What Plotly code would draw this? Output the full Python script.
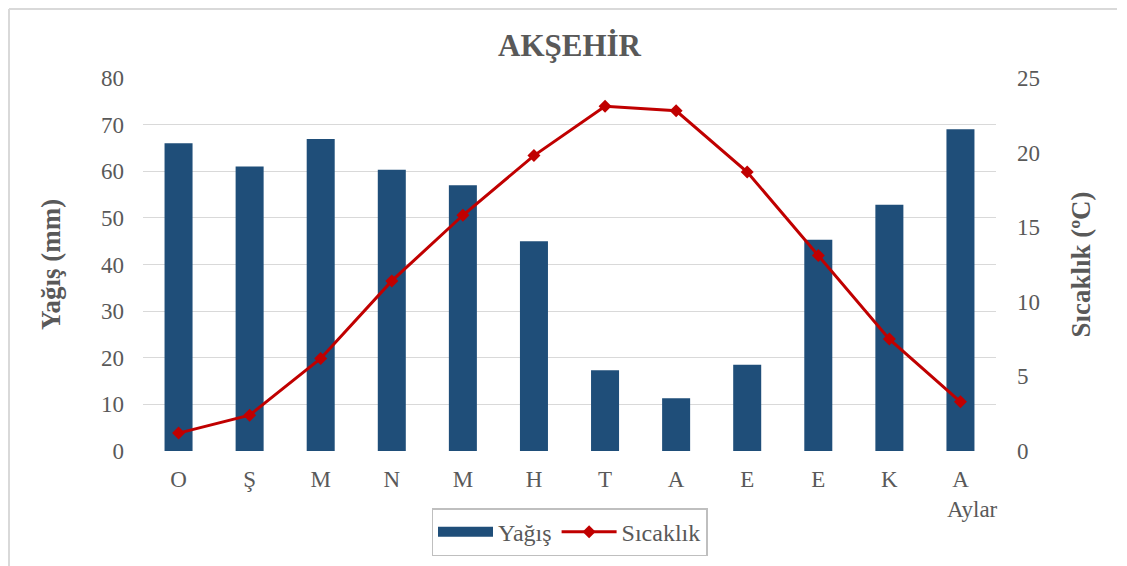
import plotly.graph_objects as go

months = ["O", "Ş", "M", "N", "M", "H", "T", "A", "E", "E", "K", "A"]
yagis = [66.0, 61.0, 66.9, 60.3, 57.0, 45.0, 17.3, 11.3, 18.5, 45.3, 52.8, 69.0]
sicaklik = [1.2, 2.4, 6.2, 11.4, 15.8, 19.8, 23.1, 22.8, 18.7, 13.1, 7.5, 3.3]

x_idx = list(range(len(months)))

FONT = "Liberation Serif, Times New Roman, serif"
GRAY = "#595959"
BLUE = "#1F4E79"
RED = "#C00000"

fig = go.Figure()
fig.add_trace(go.Bar(x=x_idx, y=yagis, name="Yağış", marker_color=BLUE,
                     marker_line_width=0, yaxis="y", showlegend=False))
# legend-only entry for bars (wide swatch like the reference)
fig.add_trace(go.Scatter(x=[None], y=[None], name="Yağış", mode="lines",
                         line=dict(color=BLUE, width=12), yaxis="y"))
fig.add_trace(go.Scatter(x=x_idx, y=sicaklik, name="Sıcaklık", mode="lines+markers",
                         line=dict(color=RED, width=3),
                         marker=dict(symbol="diamond", size=10, color=RED),
                         yaxis="y2"))

fig.update_layout(
    width=1127, height=566,
    margin=dict(l=135, r=139, t=70, b=123),
    paper_bgcolor="white", plot_bgcolor="white",
    font=dict(family=FONT, color=GRAY, size=23),
    title=dict(text="<b>AKŞEHİR</b>", xref="paper", x=0.5, xanchor="center",
               y=0.935, yanchor="middle",
               font=dict(size=31, color=GRAY, family=FONT)),
    bargap=0.606,
    showlegend=True,
    legend=dict(orientation="h", x=0.5, xanchor="center", y=-0.153, yanchor="top",
                bordercolor="#BFBFBF", borderwidth=1.5, bgcolor="white",
                font=dict(size=24, color=GRAY, family=FONT),
                itemwidth=55,
                traceorder="normal"),
    xaxis=dict(tickmode="array", tickvals=x_idx, ticktext=months, range=[-0.5, 11.5],
               showgrid=False, zeroline=False, showline=False, ticks="",
               ticklabelstandoff=12, tickfont=dict(size=23, color=GRAY)),
    yaxis=dict(range=[0, 80], dtick=10, showgrid=True, gridcolor="#D9D9D9", gridwidth=1,
               zeroline=False, showline=False, ticks="", ticklabelstandoff=18,
               tickfont=dict(size=23, color=GRAY),
               title=dict(text="<b>Yağış (mm)</b>", font=dict(size=27, color=GRAY), standoff=32)),
    yaxis2=dict(range=[0, 25], dtick=5, overlaying="y", side="right", showgrid=False,
                zeroline=False, showline=False, ticks="", ticklabelstandoff=20,
                tickfont=dict(size=23, color=GRAY),
                title=dict(text="<b>Sıcaklık (ºC)</b>", font=dict(size=27, color=GRAY), standoff=32)),
)

fig.add_annotation(text="Aylar", xref="x", yref="paper", x=11.17, y=-0.158, showarrow=False,
                   xanchor="center", yanchor="middle", font=dict(size=23, color=GRAY, family=FONT))

# outer chart border (left and top visible), drawn at the figure's edge
PLOT_W, PLOT_H = 853, 373
top = 1 + (70 - 1) / PLOT_H
left = (1 - 135) / PLOT_W
right = (1109 - 135) / PLOT_W
fig.add_shape(type="line", xref="paper", yref="paper",
              x0=left, x1=left, y0=top, y1=-0.4,
              line=dict(color="#D9D9D9", width=2))
fig.add_shape(type="line", xref="paper", yref="paper",
              x0=left, x1=right, y0=top, y1=top,
              line=dict(color="#D9D9D9", width=2))

fig.write_html("out.html")
